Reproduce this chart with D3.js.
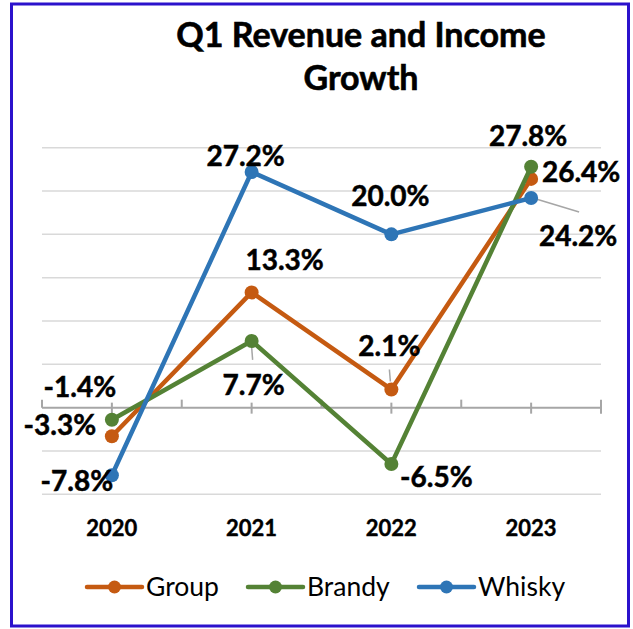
<!DOCTYPE html>
<html><head><meta charset="utf-8">
<script src="https://cdn.jsdelivr.net/npm/d3@7/dist/d3.min.js"></script>
<style>
html,body{margin:0;padding:0;background:#fff;}
svg{display:block;}
text{font-family:Lato,"Open Sans",sans-serif;}
</style></head>
<body>
<script>
const years = ["2020","2021","2022","2023"];
const groupValues  = [-3.3, 13.3, 2.1, 26.4];
const brandyValues = [-1.4, 7.7, -6.5, 27.8];
const whiskyValues = [-7.8, 27.2, 20.0, 24.2];
const seriesNames = ["Group","Brandy","Whisky"];
const yTicks = [-10,-5,0,5,10,15,20,25,30];
const titleLines = ["Q1 Revenue and Income","Growth"];

const colors = {Group:"#C55A11", Brandy:"#548235", Whisky:"#2E75B6"};
// label placement relative to marker (center dx, baseline dy)
const labelPos = {
  Group:  [[-52,-1],[33,-22],[-2,-33],[50,3]],
  Brandy: [[-32,-23],[2,54],[45,23],[-3,-21]],
  Whisky: [[-35,16],[-6,-6],[-1,-28],[47,48]]
};
const leaders = [
  {s:"Group", i:2, p:[-1,-8,-2,-20]},
  {s:"Brandy", i:1, p:[0,6,1,19]},
  {s:"Whisky", i:3, p:[5,1,48,14]}
];

const W=633,H=629;
const svg=d3.select("body").append("svg").attr("width",W).attr("height",H);
svg.append("rect").attr("x",0).attr("y",0).attr("width",W).attr("height",H).attr("fill","#fff");
svg.append("rect").attr("x",11.5).attr("y",4).attr("width",617).attr("height",622)
  .attr("fill","none").attr("stroke","#2B12CC").attr("stroke-width",3);

const x=d3.scaleBand().domain(years).range([42,601]);
const cx=d=>x(d)+x.bandwidth()/2;
const y=d3.scaleLinear().domain([-10,30]).range([494.3,147.7]);

// title
svg.append("g").selectAll("text").data(titleLines).join("text")
  .attr("x",361).attr("y",(d,i)=>47+i*43).attr("text-anchor","middle")
  .attr("font-size",34).attr("font-weight","bold").attr("fill","#000")
  .attr("stroke","#000").attr("stroke-width",0.6).text(d=>d);

// gridlines
svg.append("g").selectAll("line").data(yTicks.filter(t=>t!==0)).join("line")
  .attr("x1",42).attr("x2",601).attr("y1",d=>y(d)).attr("y2",d=>y(d))
  .attr("stroke","#d9d9d9").attr("stroke-width",1.5);

// zero axis
const y0=y(0);
const ax=svg.append("g");
ax.append("line").attr("x1",42).attr("x2",601).attr("y1",y0).attr("y2",y0)
  .attr("stroke","#a6a6a6").attr("stroke-width",2);
const bounds=years.map(d=>x(d)).concat([x.range()[1]]);
ax.selectAll("line.b").data(bounds).join("line").attr("class","b")
  .attr("x1",d=>d).attr("x2",d=>d).attr("y1",y0-8).attr("y2",(d,i)=>i===bounds.length-1?y0+6:y0)
  .attr("stroke","#a6a6a6").attr("stroke-width",2);
ax.selectAll("line.c").data(years).join("line").attr("class","c")
  .attr("x1",d=>cx(d)).attr("x2",d=>cx(d)).attr("y1",y0-5).attr("y2",y0+6)
  .attr("stroke","#a6a6a6").attr("stroke-width",2);

// category labels
svg.append("g").selectAll("text").data(years).join("text")
  .attr("x",d=>cx(d)).attr("y",536).attr("text-anchor","middle")
  .attr("font-size",22).attr("font-weight","bold").attr("fill","#000")
  .attr("stroke","#000").attr("stroke-width",0.4).text(d=>d);

const series=[
  {name:"Group", values:groupValues},
  {name:"Brandy", values:brandyValues},
  {name:"Whisky", values:whiskyValues}
];
const line=d3.line().x((d,i)=>cx(years[i])).y(d=>y(d));

// leader lines
svg.append("g").selectAll("line").data(leaders).join("line")
  .attr("x1",d=>cx(years[d.i])+d.p[0])
  .attr("y1",d=>y(series.find(s=>s.name===d.s).values[d.i])+d.p[1])
  .attr("x2",d=>cx(years[d.i])+d.p[2])
  .attr("y2",d=>y(series.find(s=>s.name===d.s).values[d.i])+d.p[3])
  .attr("stroke","#a6a6a6").attr("stroke-width",1.5);

series.forEach(s=>{
  const g=svg.append("g");
  g.append("path").datum(s.values).attr("d",line).attr("fill","none")
    .attr("stroke",colors[s.name]).attr("stroke-width",4.5).attr("stroke-linejoin","round");
  g.selectAll("circle").data(s.values).join("circle")
    .attr("cx",(d,i)=>cx(years[i])).attr("cy",d=>y(d)).attr("r",7)
    .attr("fill",colors[s.name]);
});
// data labels
series.forEach(s=>{
  svg.append("g").selectAll("text").data(s.values).join("text")
    .attr("x",(d,i)=>cx(years[i])+labelPos[s.name][i][0])
    .attr("y",(d,i)=>y(d)+labelPos[s.name][i][1])
    .attr("text-anchor","middle").attr("font-size",28).attr("font-weight","bold")
    .attr("fill","#000").attr("stroke","#000").attr("stroke-width",0.5)
    .text(d=>d.toFixed(1)+"%");
});

// legend
const legendX=[87,248,419];
const lg=svg.append("g");
seriesNames.forEach((n,i)=>{
  const gx=legendX[i];
  lg.append("line").attr("x1",gx).attr("x2",gx+55).attr("y1",587).attr("y2",587)
    .attr("stroke",colors[n]).attr("stroke-width",4.5).attr("stroke-linecap","round");
  lg.append("circle").attr("cx",gx+27.5).attr("cy",587).attr("r",6.5).attr("fill",colors[n]);
  lg.append("text").attr("x",gx+59).attr("y",596).attr("font-size",26.5)
    .attr("fill","#000").text(n);
});
</script>
</body></html>
